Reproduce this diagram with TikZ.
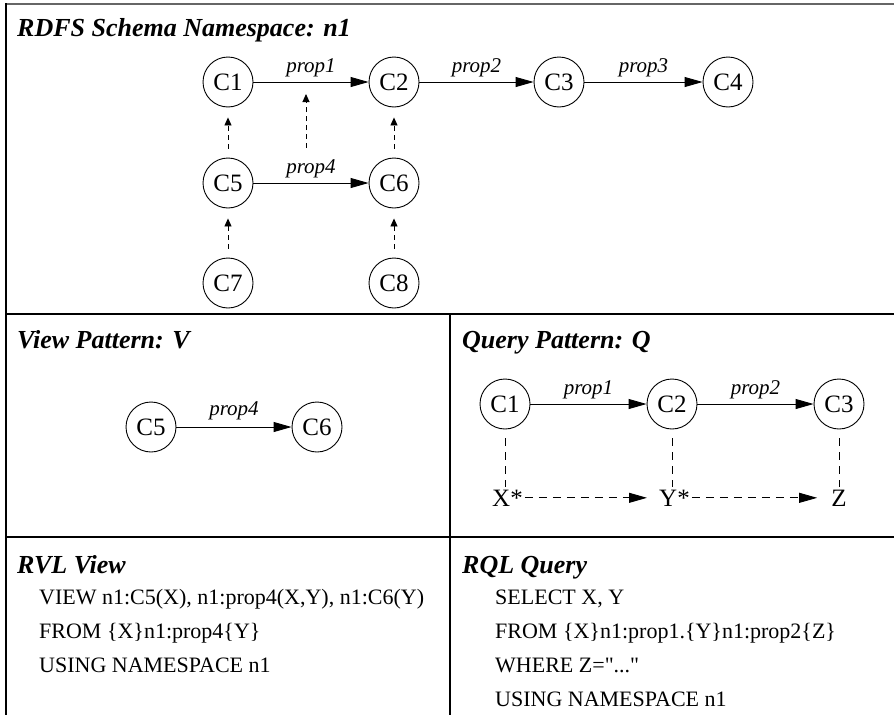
\documentclass[tikz,border=0pt]{standalone}
\usepackage{fontspec}
\setmainfont{Liberation Serif}
\usetikzlibrary{arrows.meta}
\begin{document}
\begin{tikzpicture}[x=1pt,y=-1pt,
  cls/.style={circle,draw,line width=0.9pt,minimum size=50pt,inner sep=0pt,
    font=\fontsize{25}{30}\selectfont},
  var/.style={inner sep=2pt,font=\fontsize{25}{30}\selectfont},
  edgelbl/.style={anchor=base,yshift=10pt,inner sep=0pt,
    font=\fontsize{21}{25}\selectfont\itshape},
  rel/.style={line width=0.9pt,-{Triangle[length=18pt,width=10pt]}},
  subrel/.style={line width=0.9pt,dash pattern=on 5pt off 4pt,
    -{Triangle[length=8pt,width=7pt]}},
  link/.style={line width=0.9pt,dash pattern=on 8pt off 6pt},
  varrel/.style={line width=0.9pt,dash pattern=on 8pt off 6pt,
    -{Triangle[length=18pt,width=10pt]}},
  paneltitle/.style={anchor=base west,inner sep=0pt,
    font=\fontsize{26}{30}\selectfont\bfseries\itshape},
  codeline/.style={anchor=base west,inner sep=0pt,
    font=\fontsize{22}{26}\selectfont},
  frame/.style={line width=1.2pt}
]
\useasboundingbox (0,0) rectangle (894,715);

% panel frame
\draw[line width=2.2pt,black!60] (6,4) -- (894,4);
\draw[frame] (6,3) -- (6,715);
\draw[frame] (6,314) -- (894,314);
\draw[frame] (6,537) -- (894,537);
\draw[frame] (450,314) -- (450,715);

% ---------- schema ----------
\node[paneltitle] (tschema) at (17,36) {RDFS Schema Namespace: n1};
\node[cls] (c1) at (228,82) {C1};
\node[cls] (c2) at (394,82) {C2};
\node[cls] (c3) at (559,82) {C3};
\node[cls] (c4) at (728,82) {C4};
\node[cls] (c5) at (228,183) {C5};
\node[cls] (c6) at (394,183) {C6};
\node[cls] (c7) at (228,283) {C7};
\node[cls] (c8) at (394,283) {C8};

\draw[rel] (c1) -- node[edgelbl] {prop1} (c2);
\draw[rel] (c2) -- node[edgelbl] {prop2} (c3);
\draw[rel] (c3) -- node[edgelbl] {prop3} (c4);
\draw[rel] (c5) -- node[edgelbl] {prop4} (c6);

\draw[subrel,shorten <=9pt,shorten >=10pt] (c5) -- (c1);
\draw[subrel,shorten <=9pt,shorten >=10pt] (c6) -- (c2);
\draw[subrel,shorten <=9pt,shorten >=10pt] (c7) -- (c5);
\draw[subrel,shorten <=9pt,shorten >=10pt] (c8) -- (c6);
\coordinate (p4sub) at (306,148);
\coordinate (p1sup) at (306,94);
\draw[subrel] (p4sub) -- (p1sup);

% ---------- view pattern ----------
\node[paneltitle] (tview) at (17,348) {View Pattern: V};
\node[cls] (v5) at (151,427) {C5};
\node[cls] (v6) at (317,427) {C6};
\draw[rel] (v5) -- node[edgelbl,yshift=2pt] {prop4} (v6);

% ---------- query pattern ----------
\node[paneltitle] (tquery) at (462,348) {Query Pattern: Q};
\node[cls] (q1) at (505,404) {C1};
\node[cls] (q2) at (672,404) {C2};
\node[cls] (q3) at (839,404) {C3};
\draw[rel] (q1) -- node[edgelbl] {prop1} (q2);
\draw[rel] (q2) -- node[edgelbl] {prop2} (q3);

\node[var,anchor=base west] (x) at (490,506) {X*};
\node[var,anchor=base west] (y) at (657,506) {Y*};
\node[var,anchor=base] (z) at (839,506) {Z};
\draw[link,shorten <=9pt] (q1) -- (q1 |- x.north);
\draw[link,shorten <=9pt] (q2) -- (q2 |- y.north);
\draw[link,shorten <=9pt] (q3) -- (q3 |- z.north);
\draw[varrel,shorten >=10pt] (x) -- (y);
\draw[varrel,shorten >=12pt] (y) -- (z);

% ---------- RVL view ----------
\node[paneltitle] (trvl) at (17,573) {RVL View};
\node[codeline] (r1) at (39,604) {VIEW n1:C5(X), n1:prop4(X,Y), n1:C6(Y)};
\node[codeline] (r2) at (39,638) {FROM \{X\}n1:prop4\{Y\}};
\node[codeline] (r3) at (39,672) {USING NAMESPACE n1};

% ---------- RQL query ----------
\node[paneltitle] (trql) at (462,573) {RQL Query};
\node[codeline] (s1) at (495,604) {SELECT X, Y};
\node[codeline] (s2) at (495,638) {FROM \{X\}n1:prop1.\{Y\}n1:prop2\{Z\}};
\node[codeline] (s3) at (495,672) {\addfontfeatures{Ligatures=TeXOff}WHERE Z="..."};
\node[codeline] (s4) at (495,706) {USING NAMESPACE n1};
\end{tikzpicture}
\end{document}
